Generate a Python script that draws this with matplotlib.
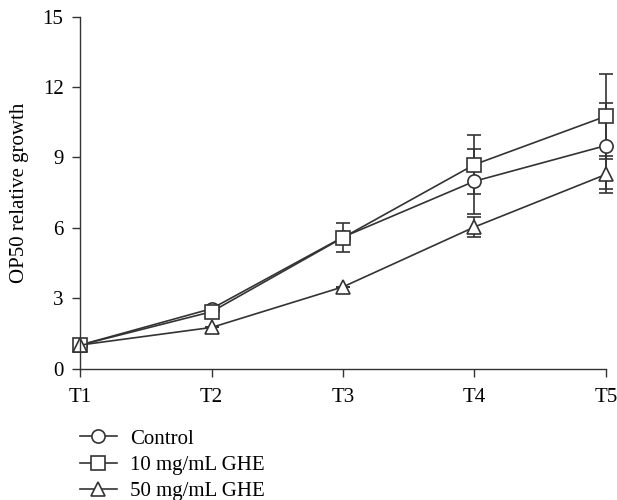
import matplotlib.pyplot as plt
from matplotlib.lines import Line2D

# Daten
times = ['T1', 'T2', 'T3', 'T4', 'T5']
control = [1.0, 2.55, 5.6, 7.98, 9.5]
control_err = [0.0, 0.0, 0.0, 1.38, 1.83]
ghe10 = [1.0, 2.42, 5.58, 8.69, 10.75]
ghe10_err = [0.0, 0.0, 0.62, 1.25, 1.81]
ghe50 = [1.0, 1.75, 3.48, 6.03, 8.27]
ghe50_err = [0.0, 0.0, 0.0, 0.43, 0.8]

plt.rcParams['font.family'] = ['Liberation Serif', 'DejaVu Serif']
ink = '#333333'
fs = 15

fig = plt.figure(figsize=(6.17, 5.0), dpi=100)
ax = fig.add_axes([0.13, 0.263, 0.852, 0.704])

x = list(range(len(times)))
series = [(control, control_err, 'o', 'Control'),
          (ghe10, ghe10_err, 's', '10 mg/mL GHE'),
          (ghe50, ghe50_err, '^', '50 mg/mL GHE')]

handles = []
for vals, errs, m, lbl in series:
    ms = 10.5 if m == '^' else 9.5
    ax.errorbar(x, vals, yerr=errs, color=ink, lw=1.2, elinewidth=1.2,
                capsize=4.7, capthick=1.2, marker=m, markersize=ms,
                markerfacecolor='white', markeredgecolor=ink, markeredgewidth=1.2,
                clip_on=False)
    handles.append(Line2D([0], [0], color=ink, lw=1.2, marker=m, markersize=ms,
                          markerfacecolor='white', markeredgecolor=ink,
                          markeredgewidth=1.2, label=lbl))

ax.set_xlim(0, 4)
ax.set_ylim(0, 15)
ax.set_xticks(x)
ax.set_xticklabels(times)
ax.set_yticks([0, 3, 6, 9, 12, 15])
ax.set_ylabel('OP50 relative growth', fontsize=fs, labelpad=10)
ax.tick_params(labelsize=fs, color=ink, width=1.0, length=6, direction='out')
ax.tick_params(axis='x', pad=8)
ax.tick_params(axis='y', pad=6)
for s in ['top', 'right']:
    ax.spines[s].set_visible(False)
for s in ['left', 'bottom']:
    ax.spines[s].set_color(ink)
    ax.spines[s].set_linewidth(1.0)

fig.legend(handles=handles, loc='upper left', bbox_to_anchor=(0.13, 0.142),
           frameon=False, fontsize=fs, handlelength=1.75, handletextpad=0.65,
           labelspacing=0.32, borderpad=0, borderaxespad=0)

fig.savefig('out.png', dpi=100)
